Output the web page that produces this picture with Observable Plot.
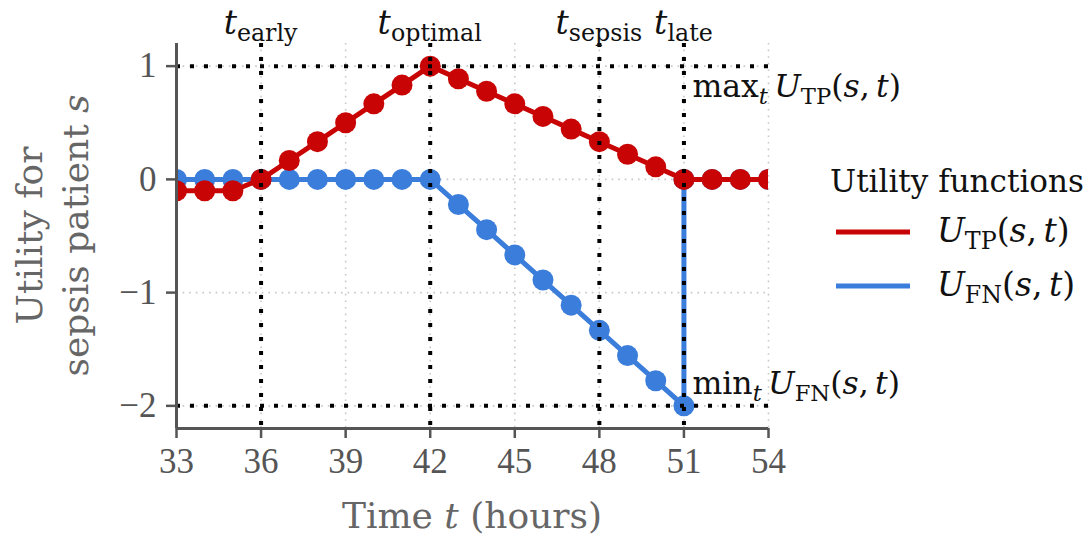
<!DOCTYPE html>
<html>
<head>
<meta charset="utf-8">
<script src="https://cdn.jsdelivr.net/npm/d3@7"></script>
<script src="https://cdn.jsdelivr.net/npm/@observablehq/plot@0.6"></script>
<style>
  html, body { margin: 0; padding: 0; background: #fff; }
  svg { display: block; }
</style>
</head>
<body>
<div id="chart"></div>
<script>
// ---- Data ----
const hours = [33,34,35,36,37,38,39,40,41,42,43,44,45,46,47,48,49,50,51,52,53,54];
const uTP   = [-0.1,-0.1,-0.1,0,0.167,0.333,0.5,0.667,0.833,1,0.889,0.778,0.667,0.556,0.444,0.333,0.222,0.111,0,0,0,0];
const fnHours = [33,34,35,36,37,38,39,40,41,42,43,44,45,46,47,48,49,50,51,51,52,53,54];
const uFN     = [0,0,0,0,0,0,0,0,0,0,-0.222,-0.444,-0.667,-0.889,-1.111,-1.333,-1.556,-1.778,-2,0,0,0,0];
const eventHours = [36, 42, 48, 51];
const eventNames = ["early", "optimal", "sepsis", "late"];
const refLevels = [1, -2];           // max_t U_TP, min_t U_FN
const xTicks = [33,36,39,42,45,48,51,54];
const yTicks = [-2,-1,0,1];
const xDomain = [33, 54];
const yDomain = [-2.2, 1.2];
const seriesNames = ["TP", "FN"];
const seriesColors = ["#c80404", "#3b7ddb"];

const tpRows = hours.map((h, i) => ({h, u: uTP[i]}));
const fnRows = fnHours.map((h, i) => ({h, u: uFN[i]}));

const FONT = "'DejaVu Serif', 'Liberation Serif', serif";
const TICKFONT = "'Liberation Serif', 'DejaVu Serif', serif";
const AXIS = "#555";
const fmt = d => (d < 0 ? "\u2212" : "") + Math.abs(d);

const chart = Plot.plot({
  width: 1088,
  height: 538,
  marginLeft: 176,
  marginRight: 320,
  marginTop: 43,
  marginBottom: 110,
  style: {fontFamily: TICKFONT, color: AXIS, background: "#fff"},
  x: {domain: xDomain},
  y: {domain: yDomain},
  marks: [
    // light dotted grid
    Plot.ruleX(xTicks, {stroke: "#c8c8c8", strokeWidth: 1.6, strokeDasharray: "1.6,5"}),
    Plot.ruleY(yTicks, {stroke: "#c8c8c8", strokeWidth: 1.6, strokeDasharray: "1.6,5"}),
    // series
    Plot.line(fnRows, {x: "h", y: "u", stroke: seriesColors[1], strokeWidth: 5, clip: true}),
    Plot.dot(fnRows, {x: "h", y: "u", r: 10.5, fill: seriesColors[1], clip: true}),
    Plot.line(tpRows, {x: "h", y: "u", stroke: seriesColors[0], strokeWidth: 5, clip: true}),
    Plot.dot(tpRows, {x: "h", y: "u", r: 10.5, fill: seriesColors[0], clip: true}),
    // reference dotted lines
    Plot.ruleX(eventHours, {stroke: "#000", strokeWidth: 4, strokeDasharray: "4,10"}),
    Plot.ruleY(refLevels, {stroke: "#000", strokeWidth: 4, strokeDasharray: "4,10"}),
    // spines
    Plot.ruleX([xDomain[0]], {stroke: AXIS, strokeWidth: 3}),
    Plot.ruleY([yDomain[0]], {stroke: AXIS, strokeWidth: 3}),
    Plot.axisX({ticks: xTicks, tickSize: 10, tickPadding: 10, strokeWidth: 2.5, fontSize: 35, label: null, tickFormat: fmt}),
    Plot.axisY({ticks: yTicks, tickSize: 10, tickPadding: 10, strokeWidth: 2.5, fontSize: 35, label: null, tickFormat: fmt})
  ]
});
document.getElementById("chart").appendChild(chart);

const xs = chart.scale("x"), ys = chart.scale("y");
const svg = d3.select(chart);

// Rich text helper: parts = [[text, style]], style: "i" italic, "sub", "isub"
function rich(x, y, parts, opts = {}) {
  const size = opts.size || 34;
  const t = svg.append("text")
    .attr("x", x).attr("y", y)
    .attr("text-anchor", opts.anchor || "start")
    .attr("font-family", FONT)
    .attr("font-size", size)
    .attr("fill", opts.fill || "#111");
  if (opts.rotate) t.attr("transform", `rotate(-90 ${x} ${y})`);
  let shifted = false;
  for (const [str, st] of parts) {
    const isSub = st === "sub" || st === "isub";
    const sp = t.append("tspan").text(str);
    if (st === "i" || st === "isub") sp.attr("font-style", "italic");
    if (isSub) sp.attr("font-size", size * 0.72);
    if (isSub && !shifted) { sp.attr("dy", size * 0.22); shifted = true; }
    else if (!isSub && shifted) { sp.attr("dy", -size * 0.22); shifted = false; }
  }
  return t;
}

// Top event labels
eventHours.forEach((h, i) => {
  rich(xs.apply(h), 34, [["t", "i"], [eventNames[i], "sub"]], {anchor: "middle", size: 33});
});

// Annotations
const fnParts = (n, op) => [[op, ""], ["t", "isub"], ["\u2009U", "i"], [n, "sub"], ["(", ""], ["s", "i"], [",\u2009", ""], ["t", "i"], [")", ""]];
rich(xs.apply(eventHours[3]) + 9, ys.apply(refLevels[0]) + 31, fnParts("TP", "max"), {size: 31.5});
rich(xs.apply(eventHours[3]) + 9, ys.apply(refLevels[1]) - 11, fnParts("FN", "min"), {size: 31.5});

// Axis labels
rich((xs.apply(xDomain[0]) + xs.apply(xDomain[1])) / 2, 528,
  [["Time ", ""], ["t", "i"], [" (hours)", ""]], {anchor: "middle", size: 36, fill: "#666"});
const yMid = (ys.apply(yDomain[0]) + ys.apply(yDomain[1])) / 2;
rich(42, yMid, [["Utility for", ""]], {anchor: "middle", size: 36, fill: "#666", rotate: true});
rich(88, yMid, [["sepsis patient ", ""], ["s", "i"]], {anchor: "middle", size: 36, fill: "#666", rotate: true});

// Legend
rich(830, 192, [["Utility functions", ""]], {size: 31});
seriesNames.forEach((n, i) => {
  const ly = 232 + i * 54;
  svg.append("line").attr("x1", 836).attr("x2", 910).attr("y1", ly).attr("y2", ly)
    .attr("stroke", seriesColors[i]).attr("stroke-width", 5);
  rich(937, ly + 10, [["U", "i"], [n, "sub"], ["(", ""], ["s", "i"], [",\u2009", ""], ["t", "i"], [")", ""]], {size: 33});
});
</script>
</body>
</html>
